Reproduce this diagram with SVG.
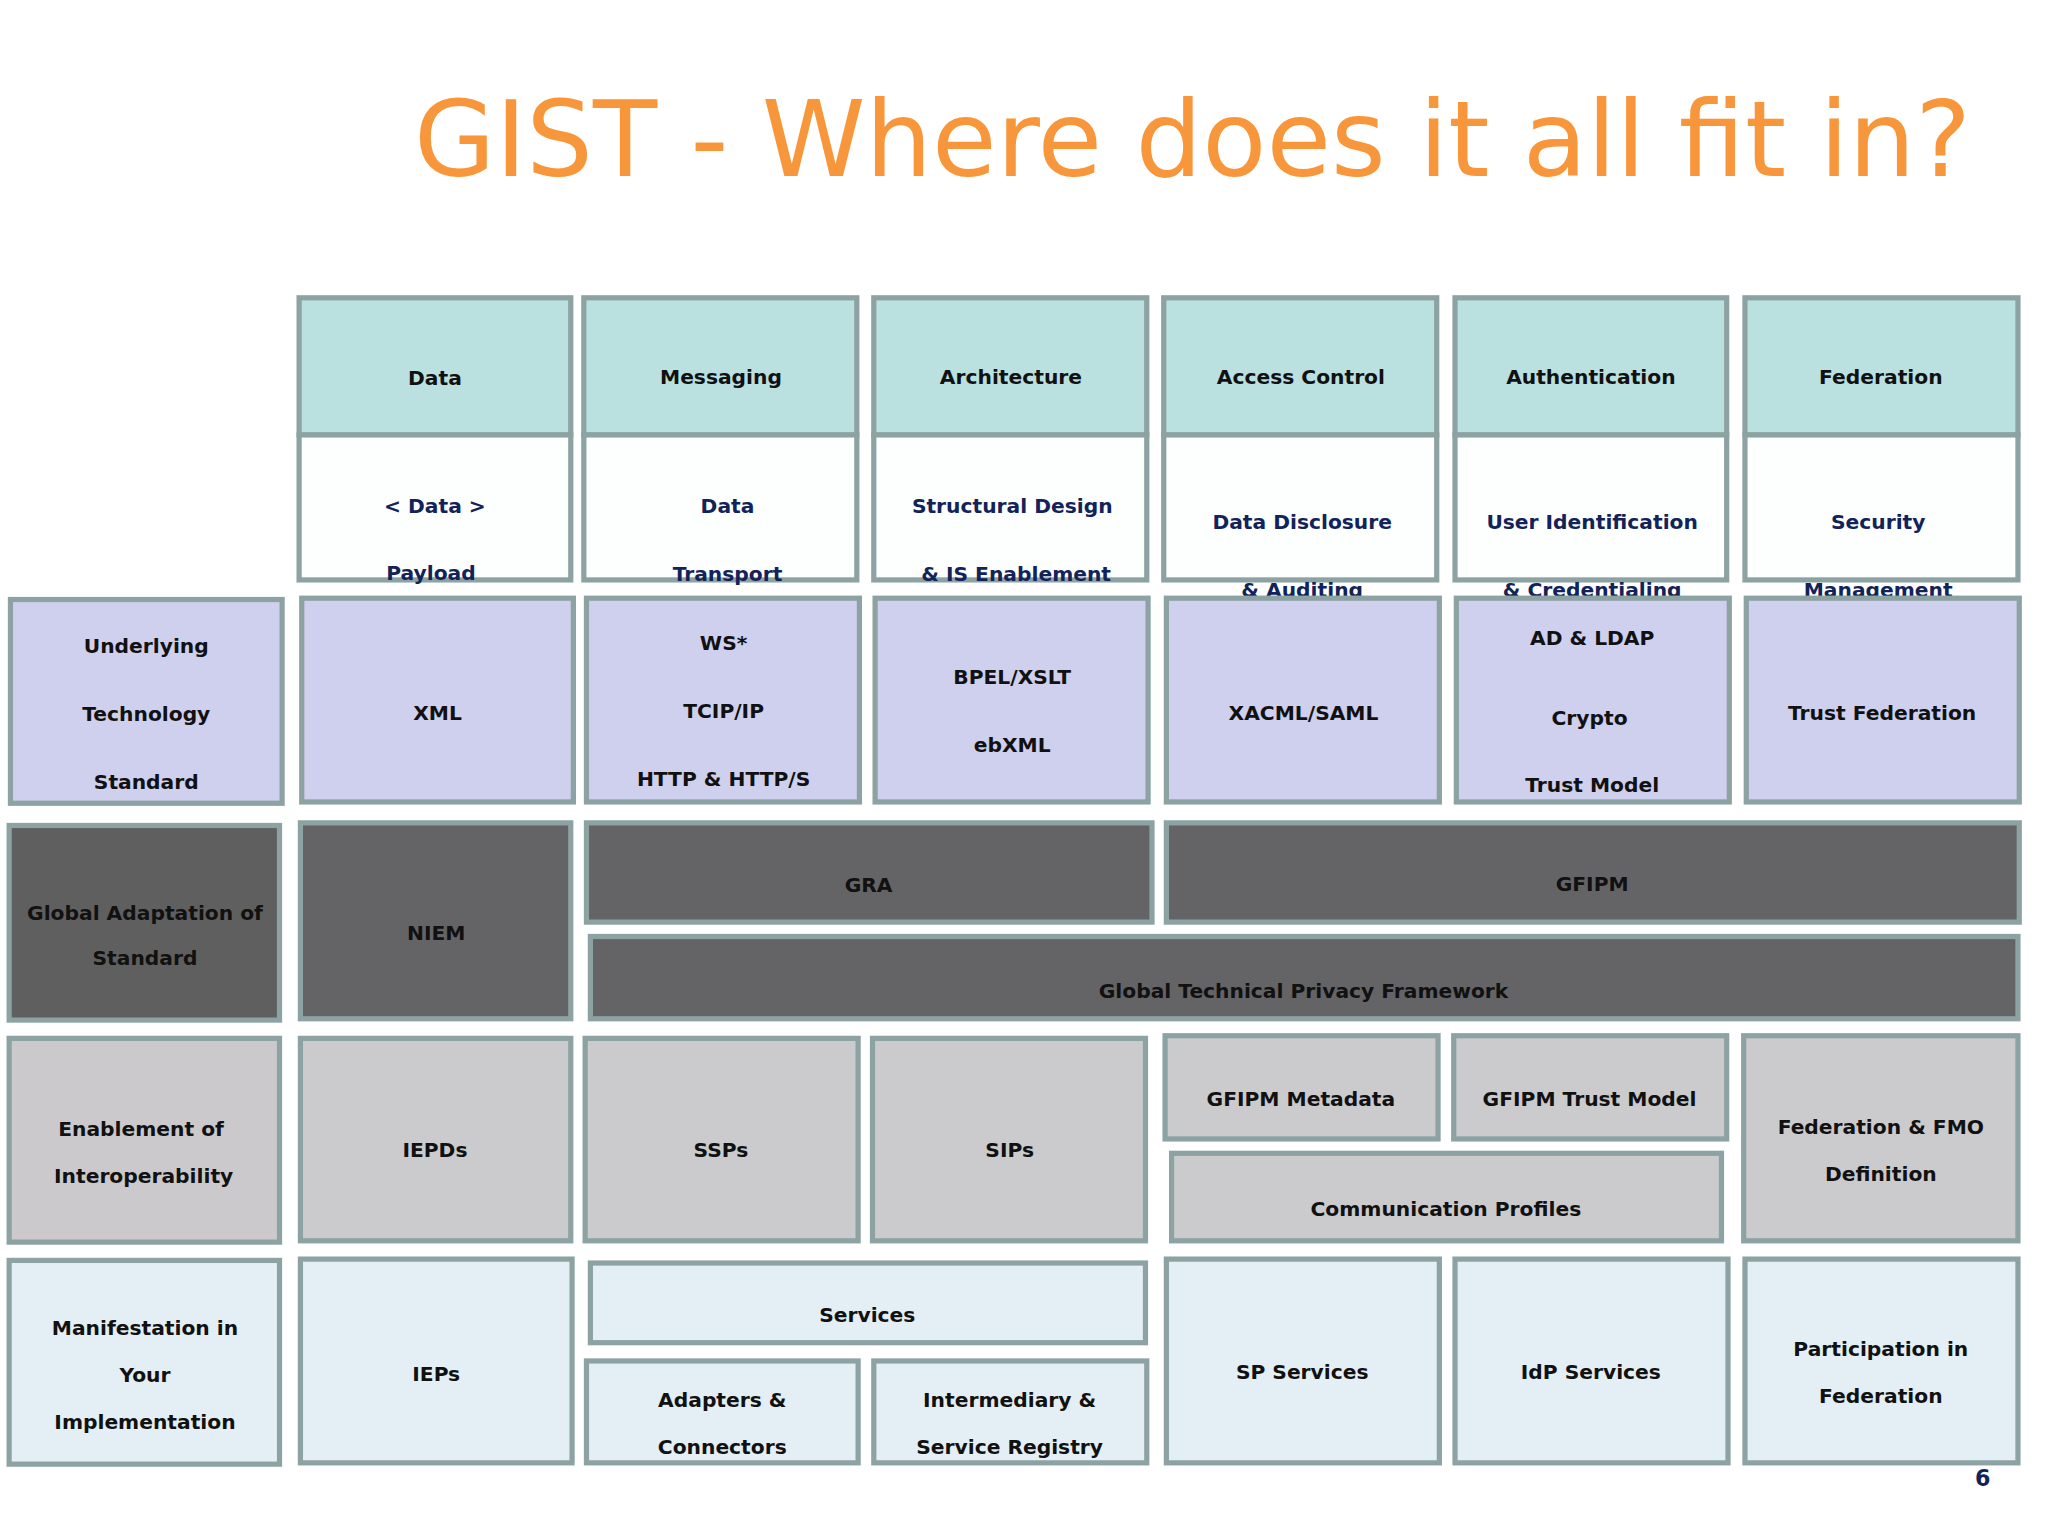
<svg xmlns="http://www.w3.org/2000/svg" width="2048" height="1536" viewBox="0 0 2048 1536">
<style>
rect{stroke:#8da3a3;stroke-width:4}
.h{fill:#bbe0e0}.w{fill:#fdfefe}.p{fill:#cfcfee}.d{fill:#646366}.g{fill:#cbcbcd}.l{fill:#e4eff5}
text{font-family:"DejaVu Sans",Verdana,sans-serif;font-weight:bold;font-size:15.5px;text-anchor:middle;fill:#111}
.n{fill:#12235a}
</style>
<rect x="0" y="0" width="2048" height="1536" fill="#fff" style="stroke:none"/>
<g transform="scale(1.30612)">
<text x="913" y="135" style="font-size:80px;font-weight:normal;fill:#f7963b" textLength="1192" lengthAdjust="spacingAndGlyphs">GIST - Where does it all fit in?</text>
<g id="hdr-data"><rect class="h" x="229" y="228" width="208" height="105"/><text x="333" y="295">Data</text></g>
<g id="hdr-msg"><rect class="h" x="447" y="228" width="209" height="105"/><text x="552" y="294">Messaging</text></g>
<g id="hdr-arch"><rect class="h" x="669" y="228" width="209" height="105"/><text x="774" y="294">Architecture</text></g>
<g id="hdr-ac"><rect class="h" x="891" y="228" width="209" height="105"/><text x="996" y="294">Access Control</text></g>
<g id="hdr-auth"><rect class="h" x="1114" y="228" width="208" height="105"/><text x="1218" y="294">Authentication</text></g>
<g id="hdr-fed"><rect class="h" x="1336" y="228" width="209" height="105"/><text x="1440" y="294">Federation</text></g>
<g id="sub-data"><rect class="w" x="229" y="333" width="208" height="111"/><text class="n" x="333" y="393">&lt; Data &gt;</text><text class="n" x="330" y="444">Payload</text></g>
<g id="sub-msg"><rect class="w" x="447" y="333" width="209" height="111"/><text class="n" x="557" y="393">Data</text><text class="n" x="557" y="445">Transport</text></g>
<g id="sub-arch"><rect class="w" x="669" y="333" width="209" height="111"/><text class="n" x="775" y="393">Structural Design</text><text class="n" x="778" y="445">&amp; IS Enablement</text></g>
<g id="sub-ac"><rect class="w" x="891" y="333" width="209" height="111"/><text class="n" x="997" y="405">Data Disclosure</text><text class="n" x="997" y="457">&amp; Auditing</text></g>
<g id="sub-auth"><rect class="w" x="1114" y="333" width="208" height="111"/><text class="n" x="1219" y="405">User Identification</text><text class="n" x="1219" y="457">&amp; Credentialing</text></g>
<g id="sub-fed"><rect class="w" x="1336" y="333" width="209" height="111"/><text class="n" x="1438" y="405">Security</text><text class="n" x="1438" y="457">Management</text></g>
<g id="r1-label"><rect class="p" x="8" y="459" width="208" height="156"/><text x="112" y="500">Underlying</text><text x="112" y="552">Technology</text><text x="112" y="604">Standard</text></g>
<g id="xml"><rect class="p" x="231" y="458" width="208" height="156"/><text x="335" y="551">XML</text></g>
<g id="ws"><rect class="p" x="449" y="458" width="209" height="156"/><text x="554" y="498">WS*</text><text x="554" y="550">TCIP/IP</text><text x="554" y="602">HTTP &amp; HTTP/S</text></g>
<g id="bpel"><rect class="p" x="670" y="458" width="209" height="156"/><text x="775" y="524">BPEL/XSLT</text><text x="775" y="576">ebXML</text></g>
<g id="xacml"><rect class="p" x="893" y="458" width="209" height="156"/><text x="998" y="551">XACML/SAML</text></g>
<g id="ad"><rect class="p" x="1115" y="458" width="209" height="156"/><text x="1219" y="494">AD &amp; LDAP</text><text x="1217" y="555">Crypto</text><text x="1219" y="606">Trust Model</text></g>
<g id="trustfed"><rect class="p" x="1337" y="458" width="209" height="156"/><text x="1441" y="551">Trust Federation</text></g>
<g id="r2-label"><rect x="7" y="632" width="207" height="149" fill="#5f5f5f"/><text x="111" y="704">Global Adaptation of</text><text x="111" y="739">Standard</text></g>
<g id="niem"><rect class="d" x="230" y="630" width="207" height="150"/><text x="334" y="720">NIEM</text></g>
<g id="gra"><rect class="d" x="449" y="630" width="433" height="76"/><text x="665" y="683">GRA</text></g>
<g id="gfipm"><rect class="d" x="893" y="630" width="653" height="76"/><text x="1219" y="682">GFIPM</text></g>
<g id="gtpf"><rect class="d" x="452" y="717" width="1093" height="63"/><text x="998" y="764">Global Technical Privacy Framework</text></g>
<g id="r3-label"><rect x="7" y="795" width="207" height="156" fill="#ccc9cc"/><text x="108" y="870">Enablement of</text><text x="110" y="906">Interoperability</text></g>
<g id="iepds"><rect class="g" x="230" y="795" width="207" height="155"/><text x="333" y="886">IEPDs</text></g>
<g id="ssps"><rect class="g" x="448" y="795" width="209" height="155"/><text x="552" y="886">SSPs</text></g>
<g id="sips"><rect class="g" x="668" y="795" width="209" height="155"/><text x="773" y="886">SIPs</text></g>
<g id="gmeta"><rect class="g" x="892" y="793" width="209" height="79"/><text x="996" y="847">GFIPM Metadata</text></g>
<g id="gtrust"><rect class="g" x="1113" y="793" width="209" height="79"/><text x="1217" y="847">GFIPM Trust Model</text></g>
<g id="comm"><rect class="g" x="897" y="883" width="421" height="67"/><text x="1107" y="931">Communication Profiles</text></g>
<g id="fmo"><rect class="g" x="1335" y="793" width="210" height="157"/><text x="1440" y="868">Federation &amp; FMO</text><text x="1440" y="904">Definition</text></g>
<g id="r4-label"><rect class="l" x="7" y="965" width="207" height="156"/><text x="111" y="1022">Manifestation in</text><text x="111" y="1058">Your</text><text x="111" y="1094">Implementation</text></g>
<g id="ieps"><rect class="l" x="230" y="964" width="208" height="156"/><text x="334" y="1057">IEPs</text></g>
<g id="services"><rect class="l" x="452" y="967" width="425" height="61"/><text x="664" y="1012">Services</text></g>
<g id="adapters"><rect class="l" x="449" y="1042" width="208" height="78"/><text x="553" y="1077">Adapters &amp;</text><text x="553" y="1113">Connectors</text></g>
<g id="intermediary"><rect class="l" x="669" y="1042" width="209" height="78"/><text x="773" y="1077">Intermediary &amp;</text><text x="773" y="1113">Service Registry</text></g>
<g id="sp"><rect class="l" x="893" y="964" width="209" height="156"/><text x="997" y="1056">SP Services</text></g>
<g id="idp"><rect class="l" x="1114" y="964" width="209" height="156"/><text x="1218" y="1056">IdP Services</text></g>
<g id="participation"><rect class="l" x="1336" y="964" width="209" height="156"/><text x="1440" y="1038">Participation in</text><text x="1440" y="1074">Federation</text></g>
<g id="connectors"></g>
<text class="n" x="1518" y="1138" style="font-size:17px">6</text>
</g>
</svg>
